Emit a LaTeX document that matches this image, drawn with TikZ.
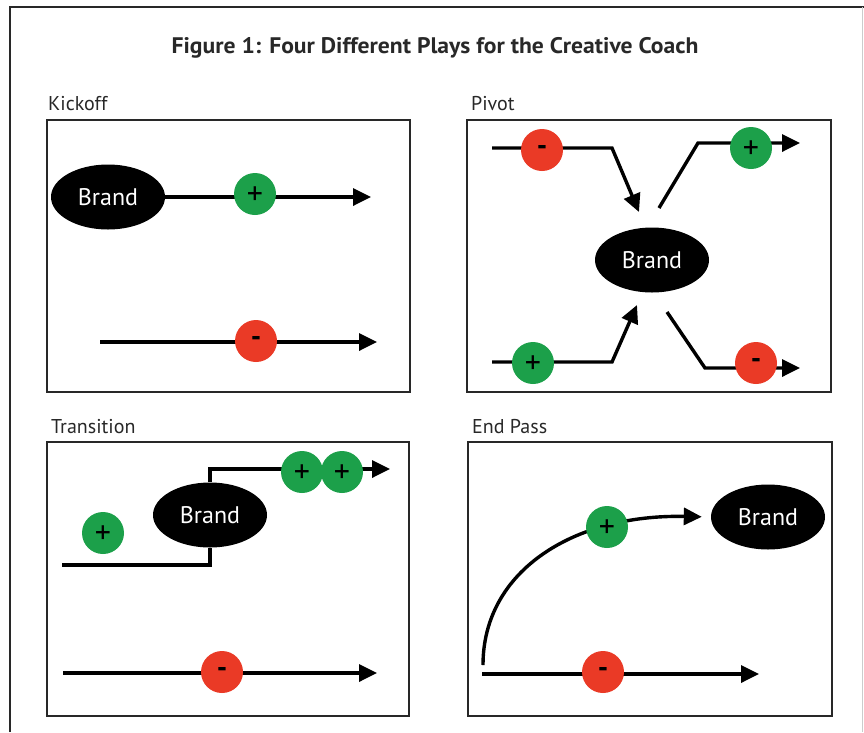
\documentclass[tikz,border=0pt]{standalone}
\usepackage{fontspec}
\setmainfont{PT Sans}
\newfontfamily\titlefont[FakeStretch=1.05]{PT Sans}
\usetikzlibrary{shapes.geometric,arrows.meta,backgrounds}
\definecolor{plusgreen}{RGB}{28,160,74}
\definecolor{minusred}{RGB}{234,58,38}
\definecolor{ink}{RGB}{40,40,40}
\newcommand{\plussign}{\raisebox{-10pt}[0pt][0pt]{+}}
\tikzset{
  panel/.style={draw=ink, line width=1.8pt},
  plabel/.style={anchor=base west, font=\fontsize{20}{20}\selectfont, text=ink, inner sep=0pt},
  brand/.style={ellipse, fill=black, text=white, minimum width=114pt, minimum height=65pt, inner sep=0pt, font=\fontsize{24}{24}\selectfont},
  plusdot/.style={circle, fill=plusgreen, minimum size=42pt, inner sep=0pt, font=\fontsize{32}{32}\selectfont, text=black},
  minusdot/.style={circle, fill=minusred, minimum size=42pt, inner sep=0pt, font=\bfseries\fontsize{29}{29}\selectfont, text=black},
  flow/.style={line width=3.4pt, black, -{Triangle[length=18pt,width=17pt]}},
  flat/.style={line width=3.4pt, black},
}
\begin{document}
\begin{tikzpicture}[x=1pt,y=-1pt]
\useasboundingbox (0,0) rectangle (864,732);
\begin{scope}[on background layer]
\fill[white] (0,0) rectangle (864,732);
\end{scope}
% outer frame
\draw[ink, line width=1.2pt] (10,732) -- (10,7) -- (864,7);
\draw[gray!40, line width=0.8pt] (862,7) -- (862,732);
% title
\node[anchor=base, font=\titlefont\bfseries\fontsize{22.5}{22.5}\selectfont, text=ink, inner sep=0pt] (title) at (435,53) {Figure 1: Four Different Plays for the Creative Coach};

% ---------- Kickoff ----------
\node[plabel] (l1) at (48,110) {Kickoff};
\draw[panel] (47,120) rectangle (410,392);
\node[brand] (b1) at (108,197) {Brand};
\coordinate (k1end) at (371,197);
\coordinate (k2start) at (100,342);
\coordinate (k2end) at (377,342);
\node[plusdot] (k1p) at (255,194) {\plussign};
\node[minusdot] (k2m) at (256,341) {-};
\begin{scope}[on background layer]
\draw[flow] (b1.east) -- (k1end);
\draw[flow] (k2start) -- (k2end);
\end{scope}

% ---------- Pivot ----------
\node[plabel] (l2) at (471,110) {Pivot};
\draw[panel] (467,120) rectangle (831,392);
\node[brand] (b2) at (652,260) {Brand};
\coordinate (p1s) at (492,148);
\coordinate (p1c) at (612,148);
\coordinate (p1e) at (639,212);
\coordinate (p2s) at (659,208);
\coordinate (p2c) at (698,143);
\coordinate (p2e) at (800,143);
\coordinate (p3s) at (492,362);
\coordinate (p3c) at (612,362);
\coordinate (p3e) at (637,305);
\coordinate (p4s) at (667,312);
\coordinate (p4c) at (705,368);
\coordinate (p4e) at (800,368);
\node[minusdot] (p1m) at (542,150) {-};
\node[plusdot] (p2p) at (751,148) {\plussign};
\node[plusdot] (p3p) at (533,363) {\plussign};
\node[minusdot] (p4m) at (756,363) {-};
\begin{scope}[on background layer]
\draw[flow] (p1s) -- (p1c) -- (p1e);
\draw[flow] (p2s) -- (p2c) -- (p2e);
\draw[flow] (p3s) -- (p3c) -- (p3e);
\draw[flow] (p4s) -- (p4c) -- (p4e);
\end{scope}

% ---------- Transition ----------
\node[plabel] (l3) at (51,433) {Transition};
\draw[panel] (47,442) rectangle (409,716);
\node[brand] (b3) at (210,515) {Brand};
\node[plusdot] (t0) at (103,533) {\plussign};
\coordinate (t1s) at (62,565);
\coordinate (t1e) at (390,469);
\coordinate (t2s) at (63,673);
\coordinate (t2e) at (377,673);
\node[plusdot] (t1p) at (302,472) {\plussign};
\node[plusdot] (t2p) at (342,472) {\plussign};
\node[minusdot] (t2m) at (222,672) {-};
\begin{scope}[on background layer]
\draw[flat] (t1s) -| (b3.south);
\draw[flow] (b3.north) |- (t1e);
\draw[flow] (t2s) -- (t2e);
\end{scope}

% ---------- End Pass ----------
\node[plabel] (l4) at (472,433) {End Pass};
\draw[panel] (468,442) rectangle (832,716);
\node[brand] (b4) at (768,517) {Brand};
\coordinate (e1s) at (483,665);
\coordinate (e2s) at (482,674);
\coordinate (e2e) at (759,674);
\node[plusdot] (e1p) at (607,527) {\plussign};
\node[minusdot] (e2m) at (603,672) {-};
\begin{scope}[on background layer]
\draw[flow, shorten >=9pt] (e1s) .. controls (483,570) and (575,514) .. (b4.west);
\draw[flow] (e2s) -- (e2e);
\end{scope}
\end{tikzpicture}
\end{document}
